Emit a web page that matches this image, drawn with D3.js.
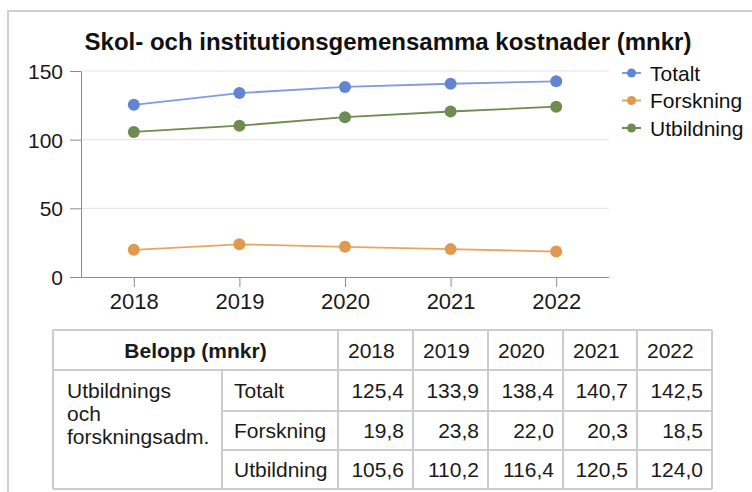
<!DOCTYPE html>
<html>
<head>
<meta charset="utf-8">
<script src="https://cdn.jsdelivr.net/npm/d3@7"></script>
<style>
  body { margin: 0; background: #fff; }
  svg { font-family: "Liberation Sans", Arial, sans-serif; }
  .grid line { stroke: #e2e2e2; }
  .axis path, .axis line { stroke: #8c8c8c; }
  .axis text { font-size: 21px; fill: #1a1a1a; }
  .x.axis text { font-size: 22px; }
</style>
</head>
<body>
<div id="chart"></div>
<script>
/***** data *****/
var years = ["2018", "2019", "2020", "2021", "2022"];
var totalt = [125.4, 133.9, 138.4, 140.7, 142.5];
var forskning = [19.8, 23.8, 22.0, 20.3, 18.5];
var utbildning = [105.6, 110.2, 116.4, 120.5, 124.0];
var seriesNames = ["Totalt", "Forskning", "Utbildning"];
var yTicks = [0, 50, 100, 150];
var groupLabel = ["Utbildnings", "och", "forskningsadm."];

var seriesValues = [totalt, forskning, utbildning];
var colorMap = {"Totalt": "#6285d2", "Forskning": "#e0994f", "Utbildning": "#6e8c50"};
var lineColorMap = {"Totalt": "#7f9ce0", "Forskning": "#e7a660", "Utbildning": "#6e8c50"};

var width = 752, height = 492;
var svg = d3.select("#chart").append("svg")
  .attr("width", width)
  .attr("height", height);

//outer frame (only top and left visible)
svg.append("path")
  .attr("d", "M8," + height + "V11H" + width)
  .attr("fill", "none")
  .attr("stroke", "#cfcfcf")
  .attr("stroke-width", 2);

//title
svg.append("text")
  .attr("x", 388)
  .attr("y", 50)
  .attr("text-anchor", "middle")
  .style("font-size", "24px")
  .style("font-weight", "bold")
  .attr("fill", "#111")
  .text("Skol- och institutionsgemensamma kostnader (mnkr)");

/***** line chart *****/
var plot = {left: 81, right: 609, top: 71, bottom: 277};

var x = d3.scalePoint()
  .domain(years)
  .range([plot.left, plot.right])
  .padding(0.5);

var y = d3.scaleLinear()
  .domain([0, 150])
  .range([plot.bottom, plot.top]);

//grid
svg.append("g")
  .attr("class", "grid")
  .selectAll("line")
  .data(yTicks.filter(function(d){ return d > 0; }))
  .enter().append("line")
  .attr("x1", plot.left).attr("x2", plot.right)
  .attr("y1", function(d){ return y(d); })
  .attr("y2", function(d){ return y(d); });

//axes
var yAxis = d3.axisLeft(y)
  .tickValues(yTicks)
  .tickSizeInner(11)
  .tickSizeOuter(0)
  .tickPadding(7);
svg.append("g")
  .attr("class", "y axis")
  .attr("transform", "translate(" + plot.left + ",0)")
  .call(yAxis)
  .selectAll("text").attr("dy", "0.36em");

var xAxis = d3.axisBottom(x)
  .tickSizeInner(10)
  .tickSizeOuter(0)
  .tickPadding(6);
var gx = svg.append("g")
  .attr("class", "x axis")
  .attr("transform", "translate(0," + plot.bottom + ")")
  .call(xAxis);
gx.select(".domain").attr("d", "M70,0.5H" + plot.right);

//lines and points
var line = d3.line()
  .x(function(d, i){ return x(years[i]); })
  .y(function(d){ return y(d); });

seriesNames.forEach(function(name, k){
  var vals = seriesValues[k];
  svg.append("path")
    .datum(vals)
    .attr("fill", "none")
    .attr("stroke", lineColorMap[name])
    .attr("stroke-width", 1.8)
    .attr("d", line);
  svg.append("g").selectAll("circle")
    .data(vals)
    .enter().append("circle")
    .attr("cx", function(d, i){ return x(years[i]); })
    .attr("cy", function(d){ return y(d); })
    .attr("r", 6)
    .attr("fill", colorMap[name]);
});

//legend
var legend = svg.append("g")
  .selectAll("g")
  .data(seriesNames)
  .enter().append("g")
  .attr("transform", function(d, i){ return "translate(622," + (73 + i * 27.5) + ")"; });
legend.append("line")
  .attr("x1", 0).attr("x2", 19)
  .attr("stroke", function(d){ return lineColorMap[d]; })
  .attr("stroke-width", 2);
legend.append("circle")
  .attr("cx", 9.5).attr("r", 4.5)
  .attr("fill", function(d){ return colorMap[d]; });
legend.append("text")
  .attr("x", 28)
  .attr("dy", "0.36em")
  .style("font-size", "21px")
  .attr("fill", "#111")
  .text(function(d){ return d; });

/***** table *****/
var colEdges = [53, 222, 338, 413, 488, 563, 637, 712];
var rowEdges = [330, 370, 411, 450, 489];
var fmt = function(v){ return v.toFixed(1).replace(".", ","); };
var table = svg.append("g").style("font-size", "21px").attr("fill", "#1a1a1a");
var borderColor = "#cccccc";

//horizontal borders
table.append("line")
  .attr("x1", colEdges[0]).attr("x2", colEdges[7])
  .attr("y1", rowEdges[0]).attr("y2", rowEdges[0]);
table.append("line")
  .attr("x1", colEdges[0]).attr("x2", colEdges[7])
  .attr("y1", rowEdges[1]).attr("y2", rowEdges[1]);
[2, 3].forEach(function(r){
  table.append("line")
    .attr("x1", colEdges[1]).attr("x2", colEdges[7])
    .attr("y1", rowEdges[r]).attr("y2", rowEdges[r]);
});
table.append("line")
  .attr("x1", colEdges[0]).attr("x2", colEdges[7])
  .attr("y1", rowEdges[4]).attr("y2", rowEdges[4]);
//vertical borders
colEdges.forEach(function(cx, i){
  table.append("line")
    .attr("x1", cx).attr("x2", cx)
    .attr("y1", i === 1 ? rowEdges[1] : rowEdges[0])
    .attr("y2", rowEdges[4]);
});
table.selectAll("line").attr("stroke", borderColor).attr("stroke-width", 2);

//header
table.append("text")
  .attr("x", (colEdges[0] + colEdges[2]) / 2)
  .attr("y", (rowEdges[0] + rowEdges[1]) / 2)
  .attr("dy", "0.36em")
  .attr("text-anchor", "middle")
  .style("font-weight", "bold")
  .text("Belopp (mnkr)");
table.selectAll("text.year")
  .data(years)
  .enter().append("text")
  .attr("class", "year")
  .attr("x", function(d, i){ return colEdges[i + 2] + 10; })
  .attr("y", (rowEdges[0] + rowEdges[1]) / 2)
  .attr("dy", "0.36em")
  .text(function(d){ return d; });

//group label
table.selectAll("text.group")
  .data(groupLabel)
  .enter().append("text")
  .attr("class", "group")
  .attr("x", colEdges[0] + 14)
  .attr("y", function(d, i){ return 398 + i * 23; })
  .text(function(d){ return d; });

//rows
seriesNames.forEach(function(name, r){
  var cy = (rowEdges[r + 1] + rowEdges[r + 2]) / 2;
  table.append("text")
    .attr("x", colEdges[1] + 12)
    .attr("y", cy)
    .attr("dy", "0.36em")
    .text(name);
  table.append("g").selectAll("text")
    .data(seriesValues[r])
    .enter().append("text")
    .attr("x", function(d, i){ return colEdges[i + 3] - 9; })
    .attr("y", cy)
    .attr("dy", "0.36em")
    .attr("text-anchor", "end")
    .text(fmt);
});
</script>
</body>
</html>
